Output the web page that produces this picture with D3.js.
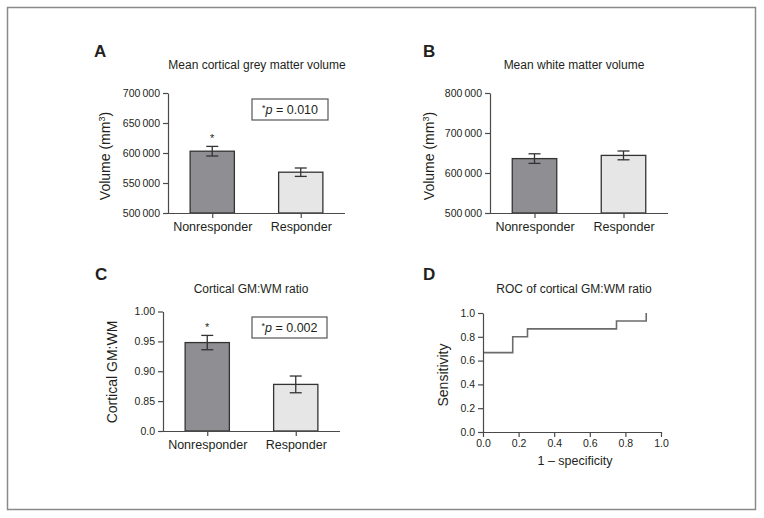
<!DOCTYPE html>
<html><head><meta charset="utf-8">
<script src="https://cdn.jsdelivr.net/npm/d3@7"></script>
<style>
html,body{margin:0;padding:0;background:#fff;}
svg{display:block;font-family:"Liberation Sans",Arial,Helvetica,sans-serif;}
</style></head>
<body>
<svg id="c" width="764" height="518"></svg>
<script>
// ---------- data ----------
const categories = ["Nonresponder", "Responder"];

const gmMean = [603000, 568000];
const gmErr = [8000, 7000];
const gmTicks = [500000, 550000, 600000, 650000, 700000];

const wmMean = [636000, 644000];
const wmErr = [12000, 11000];
const wmTicks = [500000, 600000, 700000, 800000];

const ratioMean = [0.948, 0.878];
const ratioErr = [0.012, 0.014];
const ratioTicks = [0.80, 0.85, 0.90, 0.95, 1.00];
const ratioTickLabels = ["0.0", "0.85", "0.90", "0.95", "1.00"];

const rocFpr = [0, 0.167, 0.25, 0.75, 0.917];
const rocTpr = [0.667, 0.8, 0.867, 0.933, 1.0];
const rocTicks = [0, 0.2, 0.4, 0.6, 0.8, 1.0];

const barColors = ["#8f8f93", "#e6e6e6"];
const axisColor = "#4a4a4a";
const textColor = "#231f20";

// ---------- drawing ----------
const svg = d3.select("#c");

svg.append("rect").attr("x", 7.5).attr("y", 7.5).attr("width", 748).attr("height", 502)
  .attr("fill", "none").attr("stroke", "#8a8a8a").attr("stroke-width", 1.5);

const thin = n => d3.format(",")(n).replace(/,/g, "\u2009");

function styleAxis(g) {
  g.selectAll("path, line").attr("stroke", axisColor).attr("stroke-width", 1.2);
  g.selectAll("text").attr("fill", textColor).attr("font-family", "Liberation Sans, Arial, sans-serif");
}

function panelLetter(x, y, t) {
  svg.append("text").attr("x", x).attr("y", y).text(t)
    .attr("font-size", 17).attr("font-weight", "bold").attr("fill", textColor);
}
function panelTitle(x, y, t) {
  svg.append("text").attr("x", x).attr("y", y).text(t).attr("text-anchor", "middle")
    .attr("font-size", 12).attr("fill", textColor);
}
function yTitle(x, y, build) {
  const t = svg.append("text").attr("transform", `translate(${x},${y}) rotate(-90)`)
    .attr("text-anchor", "middle").attr("font-size", 14).attr("fill", textColor);
  build(t);
}
function pBox(x, y, w, h, val) {
  svg.append("rect").attr("x", x).attr("y", y).attr("width", w).attr("height", h)
    .attr("fill", "#fff").attr("stroke", "#555").attr("stroke-width", 1.2);
  const t = svg.append("text").attr("x", x + w / 2).attr("y", y + h / 2 + 4.5)
    .attr("text-anchor", "middle").attr("font-size", 12.5).attr("fill", textColor);
  t.append("tspan").text("*").attr("font-size", 9).attr("dy", -3);
  t.append("tspan").text("p").attr("font-style", "italic").attr("font-size", 12.5).attr("dy", 3);
  t.append("tspan").text(" = " + val);
}

function barPanel(o) {
  const y = d3.scaleLinear().domain(o.domain).range([o.y0, o.y1]);
  const x = d3.scalePoint().domain(categories).range([o.x0, o.x1]).padding(0.5);
  const bw = x.step() * 0.5;

  svg.append("g").selectAll("rect").data(categories).join("rect")
    .attr("x", d => x(d) - bw / 2)
    .attr("y", (d, i) => y(o.mean[i]))
    .attr("width", bw)
    .attr("height", (d, i) => y(o.domain[0]) - y(o.mean[i]))
    .attr("fill", (d, i) => barColors[i])
    .attr("stroke", "#333").attr("stroke-width", 1.3);

  const eg = svg.append("g").attr("stroke", "#333").attr("stroke-width", 1.3);
  categories.forEach((c, i) => {
    const cx = x(c), hi = y(o.mean[i] + o.err[i]), lo = y(o.mean[i] - o.err[i]);
    eg.append("line").attr("x1", cx).attr("x2", cx).attr("y1", hi).attr("y2", lo);
    eg.append("line").attr("x1", cx - 6).attr("x2", cx + 6).attr("y1", hi).attr("y2", hi);
    eg.append("line").attr("x1", cx - 6).attr("x2", cx + 6).attr("y1", lo).attr("y2", lo);
  });

  if (o.star) {
    svg.append("text").attr("x", x(categories[0])).attr("y", y(o.mean[0] + o.err[0]) - 4)
      .attr("text-anchor", "middle").attr("font-size", 11).attr("fill", textColor).text("*");
  }

  const ya = svg.append("g").attr("transform", `translate(${o.x0},0)`)
    .call(d3.axisLeft(y).tickValues(o.ticks).tickFormat(o.fmt).tickSize(5).tickSizeOuter(0).tickPadding(3));
  ya.selectAll("text").attr("font-size", 10.5);
  styleAxis(ya);

  const xa = svg.append("g").attr("transform", `translate(0,${o.y0})`)
    .call(d3.axisBottom(x).tickSize(5).tickSizeOuter(0).tickPadding(4));
  xa.select(".domain").attr("d", `M${o.x0},0.5H${o.x1}`);
  xa.selectAll("text").attr("font-size", 12.5);
  styleAxis(xa);
}

// Panel A
panelLetter(94, 57, "A");
panelTitle(257, 69, "Mean cortical grey matter volume");
barPanel({domain: [500000, 700000], y0: 213, y1: 93, x0: 168, x1: 345,
  mean: gmMean, err: gmErr, ticks: gmTicks, fmt: thin, star: true});
yTitle(110, 156, t => { t.append("tspan").text("Volume (mm");
  t.append("tspan").text("3").attr("font-size", 9).attr("dy", -5);
  t.append("tspan").text(")").attr("dy", 5); });
pBox(252, 99, 76, 21, "0.010");

// Panel B
panelLetter(423, 57, "B");
panelTitle(574, 69, "Mean white matter volume");
barPanel({domain: [500000, 800000], y0: 213, y1: 93, x0: 490, x1: 668,
  mean: wmMean, err: wmErr, ticks: wmTicks, fmt: thin, star: false});
yTitle(434, 156, t => { t.append("tspan").text("Volume (mm");
  t.append("tspan").text("3").attr("font-size", 9).attr("dy", -5);
  t.append("tspan").text(")").attr("dy", 5); });

// Panel C
panelLetter(95, 280, "C");
panelTitle(251, 293, "Cortical GM:WM ratio");
barPanel({domain: [0.80, 1.00], y0: 431, y1: 311.5, x0: 163, x1: 340,
  mean: ratioMean, err: ratioErr, ticks: ratioTicks,
  fmt: (d) => ratioTickLabels[ratioTicks.indexOf(d)], star: true});
yTitle(117, 372, t => t.text("Cortical GM:WM"));
pBox(252, 317, 75, 21, "0.002");

// Panel D
panelLetter(423, 280, "D");
panelTitle(574, 293, "ROC of cortical GM:WM ratio");
{
  const x = d3.scaleLinear().domain([0, 1]).range([483, 661]);
  const y = d3.scaleLinear().domain([0, 1]).range([432, 313]);
  const pts = rocFpr.map((f, i) => [f, rocTpr[i]]);
  svg.append("path").datum(pts)
    .attr("d", d3.line().x(d => x(d[0])).y(d => y(d[1])).curve(d3.curveStepAfter))
    .attr("fill", "none").attr("stroke", "#6b6b6b").attr("stroke-width", 1.6);

  const ya = svg.append("g").attr("transform", "translate(483,0)")
    .call(d3.axisLeft(y).tickValues(rocTicks).tickFormat(d3.format(".1f")).tickSize(5).tickSizeOuter(0).tickPadding(3));
  ya.selectAll("text").attr("font-size", 10.5);
  styleAxis(ya);
  const xa = svg.append("g").attr("transform", "translate(0,432)")
    .call(d3.axisBottom(x).tickValues(rocTicks).tickFormat(d3.format(".1f")).tickSize(5).tickSizeOuter(0).tickPadding(3));
  xa.selectAll("text").attr("font-size", 10.5);
  styleAxis(xa);

  svg.append("text").attr("x", 575).attr("y", 465).attr("text-anchor", "middle")
    .attr("font-size", 12.5).attr("fill", textColor).text("1 \u2013 specificity");
  yTitle(448, 375, t => t.text("Sensitivity"));
}
</script>
</body></html>
